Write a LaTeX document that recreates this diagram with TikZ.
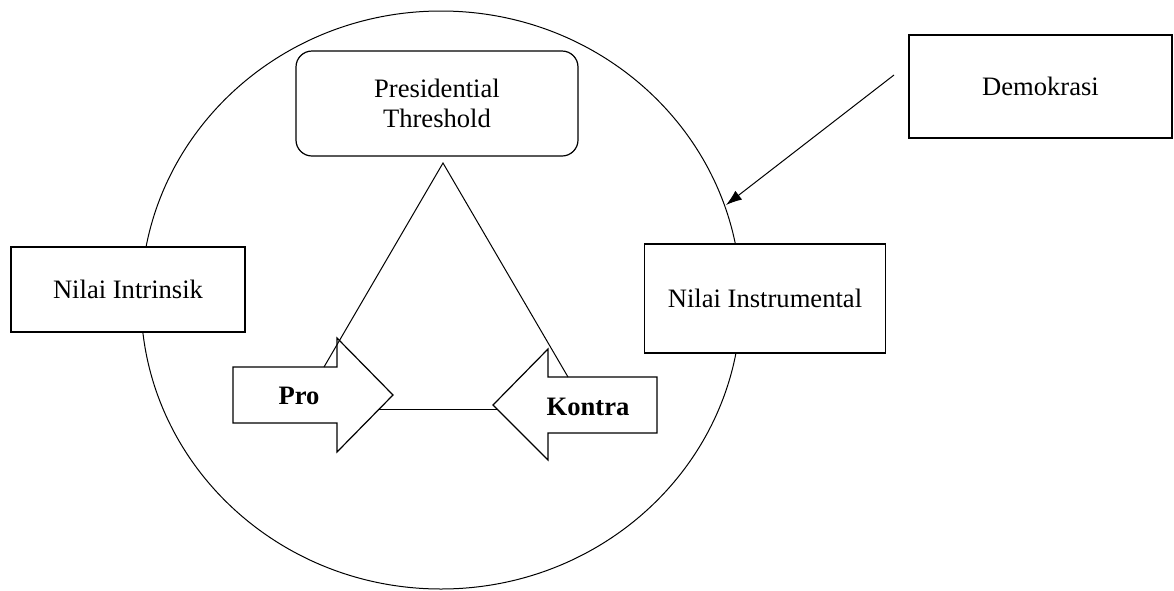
\documentclass[tikz,border=0pt]{standalone}
\usepackage{fontspec}
\setmainfont{Liberation Serif}
\usetikzlibrary{arrows.meta}

\begin{document}
\begin{tikzpicture}[x=0.5pt,y=-0.5pt,>={Latex[length=8pt,width=5.5pt]},
        font=\fontsize{13.3}{15}\selectfont,
        box/.style={draw,line width=0.6pt,fill=white,align=center,inner sep=0pt},
        bigarrow/.style={draw,line width=0.6pt,fill=white},
        link/.style={line width=0.5pt}]
        \useasboundingbox (0,0) rectangle (1174,590);

        \draw[link] (441,300) ellipse [x radius=300,y radius=289];

        \node[box,rounded corners=8pt,minimum width=141pt,minimum height=52.5pt]
            (threshold) at (437,103.5) {Presidential\\Threshold};
        \node[box,minimum width=117pt,minimum height=42.5pt]
            (intrinsik) at (128,289.5) {Nilai Intrinsik};
        \node[box,minimum width=120.5pt,minimum height=54.5pt]
            (instrumental) at (765,298.5) {Nilai Instrumental};
        \node[box,minimum width=131.5pt,minimum height=51.5pt]
            (demokrasi) at (1040.5,86.5) {Demokrasi};

        \filldraw[bigarrow] (233,367) -- (337,367) -- (337,338) -- (393,395)
            -- (337,452) -- (337,423) -- (233,423) -- cycle;
        \filldraw[bigarrow] (657,377) -- (548,377) -- (548,349) -- (493,405)
            -- (548,460) -- (548,433) -- (657,433) -- cycle;
        \node[font=\fontsize{13.3}{15}\selectfont\bfseries] (pro) at (299,396) {Pro};
        \node[font=\fontsize{13.3}{15}\selectfont\bfseries] (kontra) at (588,407) {Kontra};

        \coordinate (apex) at (443,163);
        \coordinate (proTop) at (324,367);
        \coordinate (kontraTop) at (568,377);
        \coordinate (proLow) at (379,409);
        \coordinate (kontraLow) at (497,409);
        \draw[link] (proTop) -- (apex) -- (kontraTop);
        \draw[link] (proLow) -- (kontraLow);

        \coordinate (demoStart) at (894,75);
        \coordinate (demoTip) at (726,205);
        \draw[link,->] (demoStart) -- (demoTip);

    \end{tikzpicture}
\end{document}
